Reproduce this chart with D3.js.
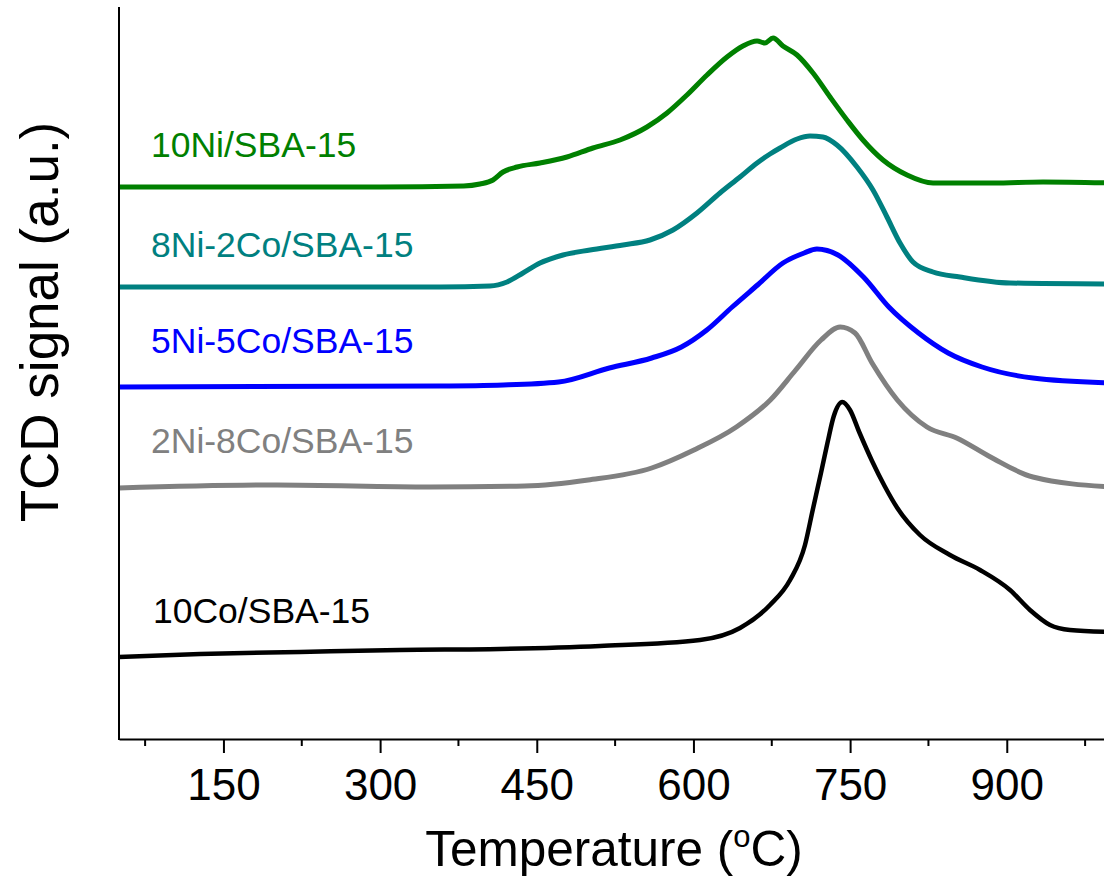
<!DOCTYPE HTML>
<html>
    <head>
        <meta http-equiv="Content-Type" content="text/html; charset=utf-8">
        <title>TPR</title>
		<style>
			body { margin:0; background:#fff; }
			svg text { font-family:"Liberation Sans", Arial, sans-serif; }
			.axis .domain { stroke:#000; stroke-width:2; }
			.axis line { stroke:#000; stroke-width:2; }
			.axis text { font-size:44px; fill:#000; }
			.curveLabel { font-size:35.5px; text-anchor:start; }
			.title { fill:#000; }
		</style>
		<script src="https://cdn.jsdelivr.net/npm/d3@7/dist/d3.min.js" charset="utf-8"></script>
    </head>
    <body>
		<script>
			// temperature (oC) / signal (a.u., curves already stacked as in the figure)
			var ni10 = [[50,55.2],[200,55.2],[300,55.2],[380,55.3],[395.6,55.5],[408.1,55.9],[417.7,56.7],[431.1,57.2],[453.1,57.6],
				[478.9,58.2],[503.8,59.1],[529.7,59.9],[555.5,61.2],[574.7,62.6],[593.8,64.4],[613,66.4],[632.1,68.2],[647.4,69.3],
				[660.9,69.8],[668.5,69.6],[676.2,70.1],[685.7,69.3],[699.2,68.4],[714.5,66.6],[730.8,64.2],[747,61.9],[762.3,59.9],
				[781.5,57.9],[804.5,56.4],[829.4,55.6],[886.8,55.6],[934.7,55.7],[1000,55.6]];
			var ni8co2 = [[50,45.2],[357.3,45.2],[405.2,45.3],[421.5,45.7],[436.8,46.6],[453.1,47.6],[475.1,48.4],[501,48.9],
				[532.6,49.4],[558.4,49.9],[580.4,50.9],[603.4,52.6],[625.4,54.6],[644.6,56.2],[660.9,57.6],[673.3,58.5],[682.9,59.1],
				[699.2,60],[711.6,60.3],[724,60.2],[737.4,59.4],[756.6,57.2],[771.9,54.9],[785.3,52.2],[797.8,49.6],[810.2,47.7],
				[829.4,46.7],[855.2,46.2],[903.1,45.6],[1000,45.5]];
			var ni5co5 = [[50,35.2],[357.3,35.3],[418.1,35.4],[470.9,35.7],[519.5,37.1],[560,38.1],[588.5,39.2],[612.8,40.9],
				[637.1,43.2],[661.4,45.4],[685.7,47.6],[706,48.6],[718.2,49],[738.4,48.4],[762.8,46.2],[787.1,43.2],[815.5,40.6],
				[843.9,38.6],[876.3,37.2],[925,36.1],[1000,35.6]];
			var ni2co8 = [[50,25.1],[201.3,25.4],[347.8,25.2],[438.4,25.3],[499.2,25.9],[560,27.1],[600.5,28.9],[641.1,31.2],
				[673.6,33.9],[697.9,36.9],[722.2,39.9],[740.5,41.2],[754.7,40.6],[771,37.6],[795.2,33.9],[823.6,31.2],[852,30.1],
				[884.4,28.2],[925,26.2],[1000,25.2]];
			var co10 = [[50,8.2],[127.6,8.5],[223.3,8.7],[319,8.9],[414.8,9],[510.5,9.3],[606.3,9.9],[644.6,11.1],[673.3,13.4],
				[692.5,15.9],[706.8,19.4],[714.2,22.9],[722.1,26.6],[728.3,29.6],[734.4,32.3],[742.5,33.7],[749.9,32.9],[758.7,30.7],
				[771,27.8],[783,25.3],[795.2,23.1],[816.9,20.4],[845.6,18.4],[874.4,16.9],[903.1,14.9],[922.2,12.9],[941.4,11.4],
				[960.5,10.9],[1000,10.7]];

			var seriesNames = ["10Ni/SBA-15","8Ni-2Co/SBA-15","5Ni-5Co/SBA-15","2Ni-8Co/SBA-15","10Co/SBA-15"];
			var seriesData = [ni10, ni8co2, ni5co5, ni2co8, co10];
			var seriesColors = ["#008000","#008080","#0000ff","#808080","#000000"];
			var labelLevels = [58.2, 48.2, 38.6, 28.6, 11.6];   // label baselines in signal units
			var majorTicks = [150,300,450,600,750,900];
			var minorTicks = [75,225,375,525,675,825,975];

			var width=1104;
			var height=879;
			var margin={top:7, left:119, bottom:140};

			var svg = d3.select('body').append('svg').attr('width',width).attr('height',height);

			var xScale=d3.scaleLinear()
				.domain([50,1000])
				.range([margin.left, margin.left+950*1.04444]);

			var yScale=d3.scaleLinear()
				.domain([0,73.2])
				.range([height-margin.bottom, margin.top]);

			var line=d3.line()
				.x(function(d){ return xScale(d[0]); })
				.y(function(d){ return yScale(d[1]); })
				.curve(d3.curveMonotoneX);

			svg.selectAll("path.datacurve")
				.data(seriesData)
				.enter()
				.append("path")
				.attr("class","datacurve")
				.attr("d",line)
				.attr("fill","none")
				.attr("stroke-width",function(d,i){ return i==4 ? 4.5 : 5; })
				.attr("stroke-linejoin","round")
				.attr("stroke",function(d,i){ return seriesColors[i]; });

			//曲线名称
			svg.selectAll(".curveLabel")
				.data(seriesNames)
				.enter()
				.append("text")
				.attr("class","curveLabel")
				.attr("x",function(d,i){ return i==4 ? 153 : 151; })
				.attr("y",function(d,i){ return yScale(labelLevels[i]); })
				.attr("fill",function(d,i){ return seriesColors[i]; })
				.text(function(d){ return d; });

			//x轴: 主刻度 + 次刻度
			var xAxis=d3.axisBottom(xScale)
				.tickValues(majorTicks)
				.tickFormat(d3.format("d"))
				.tickSize(14)
				.tickPadding(16)
				.tickSizeOuter(0);

			var xg = svg.append("g")
				.attr("class","axis")
				.attr("transform","translate(0,"+(height-margin.bottom)+")")
				.call(xAxis);

			xg.selectAll(".minor")
				.data(minorTicks)
				.enter()
				.append("line")
				.attr("class","minor")
				.attr("x1",function(d){ return xScale(d); })
				.attr("x2",function(d){ return xScale(d); })
				.attr("y1",0)
				.attr("y2",7);

			//y轴只有轴线
			svg.append("line")
				.attr("x1",margin.left).attr("x2",margin.left)
				.attr("y1",margin.top).attr("y2",height-margin.bottom+1)
				.attr("stroke","#000")
				.attr("stroke-width",2);

			var xt = svg.append("text")
				.attr("class","title")
				.attr("font-size","49.5px")
				.attr("x",614)
				.attr("y",866)
				.attr("text-anchor","middle");
			xt.append("tspan").text("Temperature (");
			xt.append("tspan").attr("font-size","31px").attr("dy",-19).text("o");
			xt.append("tspan").attr("dy",19).text("C)");

			svg.append("text")
				.attr("class","title")
				.attr("font-size","53px")
				.attr("transform","translate(58,322) rotate(-90)")
				.attr("text-anchor","middle")
				.text("TCD signal (a.u.)");
        </script>
    </body>
</html>
